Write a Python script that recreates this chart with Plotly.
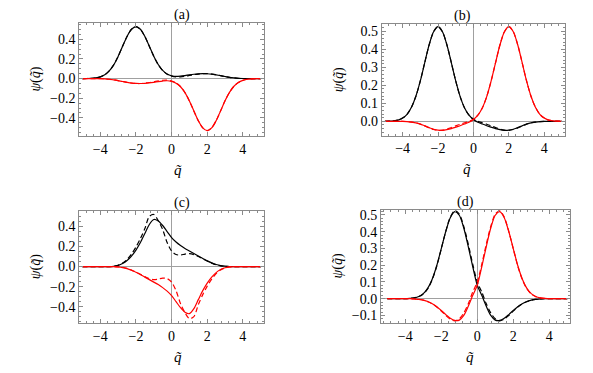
import plotly.graph_objects as go

# target picture size and the page offset of the plot div (body margin)
W, H = 593, 373
OFF = 8
FW, FH = W - OFF, H - OFF

# sample positions on the q~ axis
q = [-5.0, -4.75, -4.5, -4.25, -4.0, -3.75, -3.5, -3.25, -3.0, -2.75, -2.5, -2.25, -2.0,
     -1.75, -1.5, -1.25, -1.0, -0.75, -0.5, -0.25, 0.0, 0.25, 0.5, 0.75, 1.0, 1.25, 1.5,
     1.75, 2.0, 2.25, 2.5, 2.75, 3.0, 3.25, 3.5, 3.75, 4.0, 4.25, 4.5, 4.75, 5.0]

# panel (a)
a_black = [0, 0.001, 0.003, 0.007, 0.018, 0.039, 0.078, 0.14, 0.226, 0.329, 0.429, 0.502, 0.53,
           0.502, 0.429, 0.33, 0.228, 0.143, 0.083, 0.047, 0.028, 0.022, 0.025, 0.031, 0.038,
           0.044, 0.048, 0.05, 0.049, 0.045, 0.038, 0.03, 0.021, 0.013, 0.007, 0.003, 0.001,
           0, 0, 0, 0]
a_black_d = [0, 0.001, 0.003, 0.007, 0.018, 0.039, 0.078, 0.14, 0.226, 0.329, 0.429, 0.502, 0.53,
             0.502, 0.429, 0.33, 0.228, 0.142, 0.081, 0.044, 0.025, 0.016, 0.017, 0.023, 0.032,
             0.04, 0.046, 0.05, 0.05, 0.046, 0.039, 0.03, 0.021, 0.013, 0.007, 0.003, 0.001,
             0, 0, 0, 0]
a_red = [0, 0, 0, 0, -0.001, -0.003, -0.007, -0.013, -0.021, -0.03, -0.038, -0.045, -0.049,
         -0.05, -0.048, -0.044, -0.038, -0.031, -0.025, -0.022, -0.028, -0.047, -0.083, -0.143,
         -0.228, -0.33, -0.429, -0.502, -0.53, -0.502, -0.429, -0.329, -0.226, -0.14, -0.078,
         -0.039, -0.018, -0.007, -0.003, -0.001, 0]
a_red_d = [0, 0, 0, 0, -0.001, -0.003, -0.007, -0.013, -0.021, -0.03, -0.039, -0.046, -0.05,
           -0.05, -0.046, -0.04, -0.032, -0.023, -0.017, -0.016, -0.025, -0.044, -0.081, -0.142,
           -0.228, -0.33, -0.429, -0.502, -0.53, -0.502, -0.429, -0.329, -0.226, -0.14, -0.078,
           -0.039, -0.018, -0.007, -0.003, -0.001, 0]

# panel (b)
b_black = [0, 0.001, 0.003, 0.007, 0.018, 0.039, 0.078, 0.139, 0.224, 0.326, 0.425, 0.497, 0.525,
           0.497, 0.425, 0.326, 0.224, 0.137, 0.074, 0.034, 0.01, -0.005, -0.015, -0.024, -0.032,
           -0.04, -0.046, -0.05, -0.049, -0.044, -0.035, -0.025, -0.015, -0.008, -0.004, -0.001,
           0, 0, 0, 0, 0]
b_black_d = [0, 0.001, 0.003, 0.007, 0.018, 0.039, 0.078, 0.139, 0.224, 0.326, 0.425, 0.497, 0.525,
             0.497, 0.425, 0.326, 0.224, 0.137, 0.074, 0.034, 0.012, 0.0, -0.008, -0.016, -0.025,
             -0.034, -0.043, -0.049, -0.05, -0.045, -0.036, -0.025, -0.015, -0.008, -0.004, -0.001,
             0, 0, 0, 0, 0]
b_red = [0, 0, 0, 0, 0, -0.001, -0.004, -0.008, -0.015, -0.025, -0.035, -0.044, -0.049, -0.05,
         -0.046, -0.04, -0.032, -0.024, -0.015, -0.005, 0.01, 0.034, 0.074, 0.137, 0.224, 0.326,
         0.425, 0.497, 0.525, 0.497, 0.425, 0.326, 0.224, 0.139, 0.078, 0.039, 0.018, 0.007,
         0.003, 0.001, 0]
b_red_d = [0, 0, 0, 0, 0, -0.001, -0.004, -0.008, -0.015, -0.025, -0.036, -0.045, -0.05, -0.049,
           -0.043, -0.034, -0.025, -0.016, -0.008, 0.0, 0.012, 0.034, 0.074, 0.137, 0.224, 0.326,
           0.425, 0.497, 0.525, 0.497, 0.425, 0.326, 0.224, 0.139, 0.078, 0.039, 0.018, 0.007,
           0.003, 0.001, 0]

# panel (c)
c_black = [0, 0, 0, 0, 0, 0, 0, 0.003, 0.012, 0.03, 0.06, 0.105, 0.165, 0.24, 0.33, 0.42, 0.47,
           0.455, 0.41, 0.35, 0.29, 0.245, 0.21, 0.18, 0.155, 0.13, 0.105, 0.08, 0.057, 0.037,
           0.021, 0.01, 0.004, 0.001, 0, 0, 0, 0, 0, 0, 0]
c_black_d = [0, 0, 0, 0, 0, 0, 0, 0.003, 0.013, 0.035, 0.07, 0.125, 0.195, 0.28, 0.38, 0.5, 0.52,
             0.46, 0.37, 0.24, 0.155, 0.12, 0.115, 0.125, 0.13, 0.12, 0.1, 0.078, 0.055, 0.035,
             0.018, 0.007, 0.002, 0, 0, 0, 0, 0, 0, 0, 0]
c_red = [0, 0, 0, 0, 0, 0, 0, -0.001, -0.004, -0.01, -0.021, -0.037, -0.057, -0.08, -0.105,
         -0.13, -0.155, -0.18, -0.21, -0.245, -0.29, -0.35, -0.41, -0.455, -0.47, -0.42, -0.33,
         -0.24, -0.165, -0.105, -0.06, -0.03, -0.012, -0.003, 0, 0, 0, 0, 0, 0, 0]
c_red_d = [0, 0, 0, 0, 0, 0, 0, 0, -0.002, -0.007, -0.018, -0.035, -0.055, -0.078, -0.1, -0.12,
           -0.13, -0.125, -0.115, -0.12, -0.155, -0.24, -0.37, -0.46, -0.52, -0.5, -0.38, -0.28,
           -0.195, -0.125, -0.07, -0.035, -0.013, -0.003, 0, 0, 0, 0, 0, 0, 0]

# panel (d)
d_black = [0, 0, 0, 0, 0, 0.002, 0.005, 0.013, 0.03, 0.063, 0.118, 0.198, 0.299, 0.401, 0.483,
           0.52, 0.498, 0.422, 0.311, 0.19, 0.08, 0.02, -0.045, -0.1, -0.128, -0.13, -0.117,
           -0.095, -0.07, -0.048, -0.03, -0.017, -0.009, -0.004, -0.002, 0, 0, 0, 0, 0, 0]
d_black_d = [0, 0, 0, 0, 0, 0.002, 0.005, 0.012, 0.028, 0.06, 0.115, 0.195, 0.298, 0.402, 0.487,
             0.525, 0.505, 0.432, 0.325, 0.205, 0.1, 0.04, -0.03, -0.085, -0.12, -0.132, -0.122,
             -0.1, -0.074, -0.05, -0.031, -0.018, -0.009, -0.004, -0.002, 0, 0, 0, 0, 0, 0]
d_red = [0, 0, 0, 0, 0, 0, -0.002, -0.004, -0.009, -0.017, -0.03, -0.048, -0.07, -0.095, -0.117,
         -0.13, -0.128, -0.1, -0.045, 0.02, 0.08, 0.19, 0.311, 0.422, 0.498, 0.52, 0.483, 0.401,
         0.299, 0.198, 0.118, 0.063, 0.03, 0.013, 0.005, 0.002, 0, 0, 0, 0, 0]
d_red_d = [0, 0, 0, 0, 0, 0, -0.002, -0.004, -0.009, -0.018, -0.031, -0.05, -0.074, -0.1, -0.122,
           -0.132, -0.12, -0.085, -0.03, 0.04, 0.1, 0.205, 0.325, 0.432, 0.505, 0.525, 0.487,
           0.402, 0.298, 0.195, 0.115, 0.06, 0.028, 0.012, 0.005, 0.002, 0, 0, 0, 0, 0]

x_ticks = [-4, -2, 0, 2, 4]

# frame boxes in window pixels: left, right, top, bottom
panels = [
    dict(name="(a)", box=(79.3, 263.7, 20.7, 134.7), xr=[-5.18, 5.17], yr=[-0.585, 0.57],
         ydt=0.2, ymin=0.05, series=(a_black, a_black_d, a_red, a_red_d)),
    dict(name="(b)", box=(381.7, 565.0, 21.7, 134.3), xr=[-5.18, 5.17], yr=[-0.079, 0.542],
         ydt=0.1, ymin=0.02, series=(b_black, b_black_d, b_red, b_red_d)),
    dict(name="(c)", box=(79.3, 263.7, 210.0, 322.7), xr=[-5.18, 5.17], yr=[-0.563, 0.556],
         ydt=0.2, ymin=0.05, series=(c_black, c_black_d, c_red, c_red_d)),
    dict(name="(d)", box=(381.0, 570.3, 209.0, 322.7), xr=[-5.35, 5.17], yr=[-0.145, 0.53],
         ydt=0.1, ymin=0.02, series=(d_black, d_black_d, d_red, d_red_d)),
]


def px(v):
    return (v - OFF) / FW


def py(v):
    return 1 - (v - OFF) / FH


font = dict(family="Liberation Serif, Times New Roman, serif", size=14, color="black")
frame = "#8a8a8a"

fig = go.Figure()
annotations = []
for i, p in enumerate(panels, start=1):
    sfx = "" if i == 1 else str(i)
    l, r, t, b = p["box"]
    xa, ya = "x" + sfx, "y" + sfx
    styles = [("black", "solid"), ("black", "5px,3px"), ("#ff0000", "solid"), ("#ff0000", "5px,3px")]
    for vals, (col, dash) in zip(p["series"], styles):
        fig.add_trace(go.Scatter(x=q, y=vals, mode="lines", xaxis=xa, yaxis=ya,
                                 line=dict(color=col, width=1.2, dash=dash, shape="spline",
                                           smoothing=0.8),
                                 showlegend=False, hoverinfo="skip"))
    common = dict(showline=True, linecolor=frame, linewidth=1, mirror="allticks",
                  ticks="inside", ticklen=4, tickcolor=frame, showgrid=False,
                  zeroline=True, zerolinecolor="#a0a0a0", zerolinewidth=1,
                  tickfont=font)
    fig.layout["xaxis" + sfx] = dict(common, domain=[px(l), px(r)], range=p["xr"],
                                     anchor=ya, tickvals=x_ticks,
                                     minor=dict(ticks="inside", ticklen=2, dtick=0.4, tick0=0,
                                                tickcolor=frame))
    fig.layout["yaxis" + sfx] = dict(common, domain=[py(b), py(t)], range=p["yr"],
                                     anchor=xa, dtick=p["ydt"], tick0=0, tickformat=".1f",
                                     minor=dict(ticks="inside", ticklen=2, dtick=p["ymin"],
                                                tick0=0, tickcolor=frame))
    cx = (l + r) / 2
    annotations.append(dict(text=p["name"], x=px(cx), y=py(t - 8), xref="paper",
                            yref="paper", showarrow=False, font=font, yanchor="middle"))
    annotations.append(dict(text="<i>q̃</i>", x=px(cx), y=py(b + 34), xref="paper",
                            yref="paper", showarrow=False, font=dict(font, size=15),
                            yanchor="middle"))
    annotations.append(dict(text="<i>ψ</i>(<i>q̃</i>)", x=px(l - 43), y=py((t + b) / 2),
                            xref="paper", yref="paper", showarrow=False, textangle=-90,
                            font=font, xanchor="center", yanchor="middle"))

fig.update_layout(width=FW, height=FH, margin=dict(l=0, r=0, t=0, b=0),
                  paper_bgcolor="white", plot_bgcolor="white", font=font,
                  annotations=annotations)

fig.write_html("out.html")
